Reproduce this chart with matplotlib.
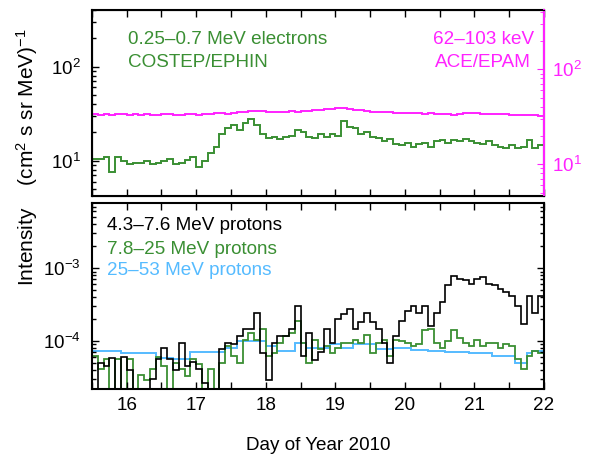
import numpy as np
import matplotlib
matplotlib.use("Agg")
import matplotlib.pyplot as plt
from matplotlib.ticker import LogLocator, MultipleLocator, NullFormatter

plt.rcParams['font.family'] = ['Liberation Sans', 'DejaVu Sans']
plt.rcParams['mathtext.fontset'] = 'custom'
plt.rcParams['mathtext.rm'] = 'Liberation Sans'
plt.rcParams['mathtext.it'] = 'Liberation Sans'

# 2-hour bins from day 15.5 to 22.0
day_start = 15.5
bin_width = 1 / 12

electrons = [10.5, 10.5, 11, 7.5, 11, 10, 9.2, 9.5, 9.5, 9.8,
             9.3, 9.5, 9.8, 10.5, 9.2, 9.5, 10.2, 11, 8.6, 10,
             12, 14, 19, 22, 24, 21, 25, 28, 24, 19,
             17.5, 18, 17, 18, 18.5, 21, 20, 18, 17.5, 19,
             18, 19, 18.5, 26.5, 23, 22, 19, 20, 18, 17.5,
             16, 17, 15, 14.5, 15.5, 14, 15, 15.5, 14, 16,
             16.5, 15.5, 16.5, 16, 17, 16, 15.5, 15, 16, 14.5,
             14, 13.5, 14.5, 13.5, 14, 16.5, 13.5, 14.5]

epam = [33.5, 33.2, 33.8, 33.0, 33.6, 33.4, 33.0, 33.5, 33.2, 33.8,
        33.3, 33.0, 33.6, 33.4, 33.0, 33.3, 34.0, 33.4, 33.2, 33.6,
        33.8, 34.2, 34.6, 34.0, 34.8, 35.4, 35.0, 36.2, 36.6, 36.0,
        35.4, 35.8, 35.2, 35.6, 36.2, 35.8, 36.4, 36.0, 36.8, 37.2,
        37.6, 38.4, 39.2, 38.6, 38.0, 37.4, 36.8, 36.2, 35.8, 35.4,
        35.0, 35.2, 34.6, 34.8, 34.4, 34.6, 34.2, 34.0, 34.4, 33.8,
        34.0, 33.6, 32.8, 33.6, 34.2, 34.6, 34.2, 34.0, 33.8, 33.6,
        33.4, 33.8, 33.2, 32.8, 32.6, 33.0, 32.6, 32.4]

p_low = [1e-5, 5.0e-5, 4.5e-5, 5.8e-5, 1e-5, 6.0e-5, 4.0e-5, 1e-5, 1e-5, 1e-5,
         3.0e-5, 5.6e-5, 8.0e-5, 5.6e-5, 4.0e-5, 9.5e-5, 4.6e-5, 5.2e-5, 4.1e-5, 2.65e-5,
         1e-5, 1e-5, 7.7e-5, 9.5e-5, 9.2e-5, 1.17e-4, 1.45e-4, 1.45e-4, 2.4e-4, 6.9e-5,
         2.95e-5, 9.5e-5, 1.17e-4, 1.17e-4, 1.45e-4, 3.05e-4, 6.2e-5, 1.3e-4, 5.5e-5, 7.0e-5,
         1.45e-4, 9.5e-5, 2.0e-4, 2.34e-4, 2.74e-4, 1.45e-4, 1.8e-4, 2.46e-4, 1.8e-4, 1.45e-4,
         9.5e-5, 5.0e-5, 1.17e-4, 1.9e-4, 2.6e-4, 3.05e-4, 2.46e-4, 3.05e-4, 1.6e-4, 2.46e-4,
         3.4e-4, 5.8e-4, 7.9e-4, 7.1e-4, 6.8e-4, 6.1e-4, 7.1e-4, 7.5e-4, 6.1e-4, 5.8e-4,
         5.2e-4, 4.7e-4, 4.2e-4, 3.05e-4, 1.7e-4, 4.2e-4, 2.46e-4, 4.2e-4]

p_mid = [6.2e-5, 4.1e-5, 5.6e-5, 1e-5, 5.6e-5, 1e-5, 5.6e-5, 1e-5, 3.4e-5, 2.95e-5,
         4.1e-5, 6.0e-5, 4.5e-5, 1e-5, 5.0e-5, 4.1e-5, 3.3e-5, 5.6e-5, 4.8e-5, 1e-5,
         4.1e-5, 1e-5, 5.0e-5, 8.5e-5, 6.2e-5, 5.0e-5, 1.05e-4, 1.3e-4, 1.05e-4, 1.45e-4,
         6.2e-5, 6.9e-5, 9.5e-5, 1.17e-4, 1.3e-4, 1.9e-4, 9.5e-5, 5.0e-5, 1.05e-4, 7.7e-5,
         8.5e-5, 6.9e-5, 8.1e-5, 9.5e-5, 9.5e-5, 1.05e-4, 9.5e-5, 1.2e-4, 6.9e-5, 9.5e-5,
         1.05e-4, 6.2e-5, 1.05e-4, 1.0e-4, 9.5e-5, 8.5e-5, 9.0e-5, 1.4e-4, 1.45e-4, 9.5e-5,
         8.1e-5, 1.0e-4, 1.4e-4, 1.1e-4, 9.5e-5, 8.5e-5, 1.05e-4, 8.5e-5, 9.5e-5, 9.5e-5,
         8.1e-5, 9.0e-5, 8.5e-5, 5.6e-5, 4.1e-5, 6.2e-5, 7.3e-5, 6.9e-5]

p_high = [7.4e-5] * 5 + [6.9e-5] * 6 + [5.9e-5] * 3 + [5.75e-5] * 3 + [7.05e-5] * 6 \
    + [8.1e-5] * 2 + [1.0e-4] * 5 + [8.5e-5] * 2 + [7.3e-5] * 3 + [9.5e-5] * 2 \
    + [8.1e-5] * 4 + [9.2e-5] * 2 + [8.1e-5] * 2 + [9.0e-5] * 4 + [7.7e-5] * 3 \
    + [8.1e-5] * 3 + [7.5e-5] * 3 + [7.3e-5] * 3 + [7.05e-5] * 4 + [6.9e-5] * 4 \
    + [6.3e-5] * 4 + [5.0e-5] * 2 + [6.9e-5] + [7.4e-5] * 2

edges = day_start + bin_width * np.arange(len(electrons) + 1)

green = '#3a8f33'
magenta = '#ff22ff'
blue = '#55bbff'
fs = 13.6

fig = plt.figure(figsize=(6.01, 4.55), dpi=100)
ax1 = fig.add_axes([0.153, 0.569, 0.752, 0.409])
ax2 = fig.add_axes([0.153, 0.145, 0.752, 0.409])

def style(ax):
    for s in ax.spines.values():
        s.set_linewidth(1.5)
    ax.set_xlim(15.5, 22)
    ax.xaxis.set_major_locator(MultipleLocator(1))
    ax.xaxis.set_minor_locator(MultipleLocator(0.5))
    ax.tick_params(which='both', direction='in', top=True, right=True, labelsize=fs)
    ax.tick_params(axis='x', pad=6)
    ax.tick_params(axis='y', pad=8)
    ax.tick_params(which='major', length=5, width=1)
    ax.tick_params(which='minor', length=5, width=1)
    ax.tick_params(axis='y', which='minor', length=3)
    ax.set_yscale('log')
    ax.yaxis.set_minor_locator(LogLocator(base=10, subs=np.arange(2, 10)))
    ax.yaxis.set_minor_formatter(NullFormatter())

# top panel
ax1.stairs(electrons, edges, color=green, lw=1.4)
style(ax1)
ax1.set_ylim(4.2, 400)
ax1.tick_params(labelbottom=False, right=False)
ax1.text(0.08, 0.82, '0.25\u20130.7 MeV electrons', color=green, fontsize=fs, transform=ax1.transAxes)
ax1.text(0.08, 0.696, 'COSTEP/EPHIN', color=green, fontsize=fs, transform=ax1.transAxes)

ax1r = ax1.twinx()
ax1r.stairs(epam, edges, color=magenta, lw=1.4)
ax1r.set_yscale('log')
ax1r.set_ylim(4.6, 420)
ax1r.spines['right'].set_color(magenta)
ax1r.spines['right'].set_linewidth(1.5)
ax1r.yaxis.set_minor_locator(LogLocator(base=10, subs=np.arange(2, 10)))
ax1r.yaxis.set_minor_formatter(NullFormatter())
ax1r.tick_params(axis='y', which='both', direction='in', colors=magenta, labelsize=fs, pad=6)
ax1r.tick_params(axis='y', which='major', length=5)
ax1r.tick_params(axis='y', which='minor', length=3)
ax1r.text(0.754, 0.82, '62\u2013103 keV', color=magenta, fontsize=fs, transform=ax1.transAxes)
ax1r.text(0.759, 0.696, 'ACE/EPAM', color=magenta, fontsize=fs, transform=ax1.transAxes)

# bottom panel
ax2.stairs(p_high, edges, color=blue, lw=1.4)
ax2.stairs(p_mid, edges, color=green, lw=1.3)
ax2.stairs(p_low, edges, color='black', lw=1.2)
style(ax2)
ax2.set_ylim(2.2e-5, 7.85e-3)
ax2.text(0.033, 0.852, '4.3\u20137.6 MeV protons', color='black', fontsize=fs, transform=ax2.transAxes)
ax2.text(0.033, 0.728, '7.8\u201325 MeV protons', color=green, fontsize=fs, transform=ax2.transAxes)
ax2.text(0.033, 0.615, '25\u201353 MeV protons', color=blue, fontsize=fs, transform=ax2.transAxes)
ax2.set_xlabel('Day of Year 2010', fontsize=fs, labelpad=16)

fig.text(0.045, 0.655, 'Intensity    (cm$^2$ s sr MeV)$^{-1}$', rotation=90,
         fontsize=15, ha='center', va='center')

fig.savefig('out.png', dpi=100)
